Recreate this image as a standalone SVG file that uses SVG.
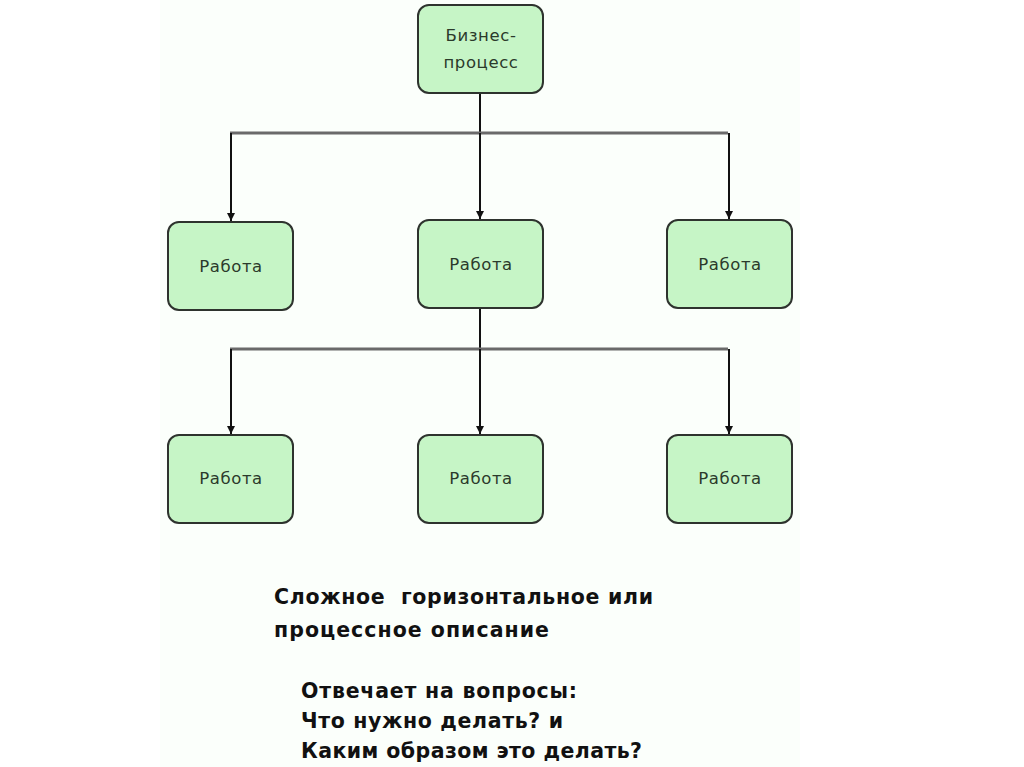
<svg xmlns="http://www.w3.org/2000/svg" width="1024" height="767" viewBox="0 0 1024 767">
<defs>
<style>
.node rect{fill:#c6f5c6;stroke:#2e332e;stroke-width:2}
.node text{font-family:"DejaVu Sans","Liberation Sans",sans-serif;font-size:16.5px;letter-spacing:0.6px;fill:#2b3a2b;text-anchor:middle}
.bus{stroke:#6a6a6a;stroke-width:3;fill:none}
.drop{stroke:#111;stroke-width:2;fill:none;marker-end:url(#ah)}
.stem{stroke:#111;stroke-width:2;fill:none}
.cap{font-family:"DejaVu Sans","Liberation Sans",sans-serif;font-size:20.5px;font-weight:bold;fill:#111}
</style>
<marker id="ah" viewBox="0 0 8 8" refX="8" refY="4" markerWidth="4" markerHeight="4" orient="auto"><path d="M0,0 L8,4 L0,8 z" fill="#111"/></marker>
</defs>
<rect width="1024" height="767" fill="#ffffff"/>
<rect x="160" y="0" width="640" height="767" fill="#fbfffb"/>
<g id="connectors">
<line class="stem" x1="480" y1="93" x2="480" y2="133"/>
<line class="bus" x1="230" y1="133" x2="728" y2="133"/>
<line class="drop" x1="231" y1="133" x2="231" y2="221"/>
<line class="drop" x1="480" y1="133" x2="480" y2="219"/>
<line class="drop" x1="729" y1="133" x2="729" y2="219"/>
<line class="stem" x1="480" y1="308" x2="480" y2="349"/>
<line class="bus" x1="230" y1="349" x2="728" y2="349"/>
<line class="drop" x1="231" y1="349" x2="231" y2="434"/>
<line class="drop" x1="480" y1="349" x2="480" y2="434"/>
<line class="drop" x1="729" y1="349" x2="729" y2="434"/>
</g>
<g id="n-bp" class="node"><rect x="418" y="5" width="125" height="88" rx="11"/><text x="481" y="41">Бизнес-</text><text x="481" y="68">процесс</text></g>
<g id="n-w1" class="node"><rect x="168" y="222" width="125" height="88" rx="11"/><text x="231" y="272">Работа</text></g>
<g id="n-w2" class="node"><rect x="418" y="220" width="125" height="88" rx="11"/><text x="481" y="270">Работа</text></g>
<g id="n-w3" class="node"><rect x="667" y="220" width="125" height="88" rx="11"/><text x="730" y="270">Работа</text></g>
<g id="n-w4" class="node"><rect x="168" y="435" width="125" height="88" rx="11"/><text x="231" y="484">Работа</text></g>
<g id="n-w5" class="node"><rect x="418" y="435" width="125" height="88" rx="11"/><text x="481" y="484">Работа</text></g>
<g id="n-w6" class="node"><rect x="667" y="435" width="125" height="88" rx="11"/><text x="730" y="484">Работа</text></g>
<g id="caption">
<text class="cap" x="274" y="604" xml:space="preserve" textLength="379" lengthAdjust="spacing">Сложное  горизонтальное или</text>
<text class="cap" x="274" y="637" textLength="275" lengthAdjust="spacing">процессное описание</text>
<text class="cap" x="301" y="698" textLength="276" lengthAdjust="spacing">Отвечает на вопросы:</text>
<text class="cap" x="301" y="728" textLength="262" lengthAdjust="spacing">Что нужно делать? и</text>
<text class="cap" x="301" y="758" textLength="341" lengthAdjust="spacing">Каким образом это делать?</text>
</g>
</svg>
